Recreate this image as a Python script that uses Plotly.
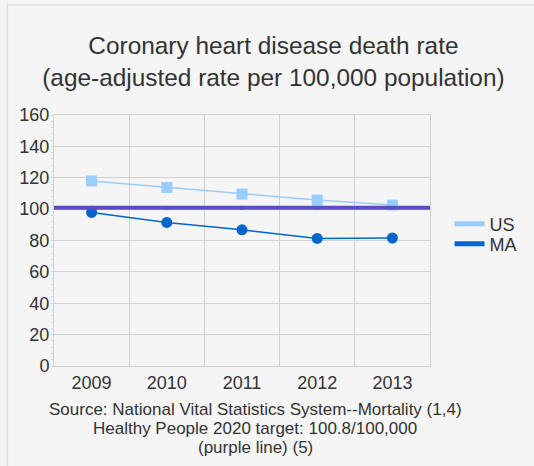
import plotly.graph_objects as go

years = ["2009", "2010", "2011", "2012", "2013"]
us_rate = [118.0, 113.8, 109.6, 105.8, 102.6]
ma_rate = [97.9, 91.5, 86.8, 81.3, 81.6]
target = 100.8
y_ticks = [0, 20, 40, 60, 80, 100, 120, 140, 160]
source_lines = ["Source: National Vital Statistics System--Mortality (1,4)",
                "Healthy People 2020 target: 100.8/100,000",
                "(purple line) (5)"]

xpos = list(range(len(years)))
font = "Liberation Sans, Arial, sans-serif"
txt = "#333333"
bg = "#f5f5f5"
grid = "#d0d0d0"
US_C = "#99ccff"
MA_C = "#0066cc"
PURPLE = "#5a4ec4"

fig = go.Figure()
fig.add_trace(go.Scatter(x=xpos, y=[target]*len(years), mode="markers",
                         marker=dict(symbol="square", size=4, color="#6a5fd0"),
                         showlegend=False, hoverinfo="skip"))
fig.add_trace(go.Scatter(x=xpos, y=us_rate, name="US", mode="lines+markers",
                         line=dict(color=US_C, width=1.5), showlegend=False,
                         marker=dict(symbol="square", size=11, color=US_C)))
fig.add_trace(go.Scatter(x=xpos, y=ma_rate, name="MA", mode="lines+markers",
                         line=dict(color=MA_C, width=1.5), showlegend=False,
                         marker=dict(symbol="circle", size=11, color=MA_C)))
# legend entries (line swatches only)
fig.add_trace(go.Scatter(x=[None], y=[None], name="US", mode="lines",
                         line=dict(color=US_C, width=5), legend="legend"))
fig.add_trace(go.Scatter(x=[None], y=[None], name="MA", mode="lines",
                         line=dict(color=MA_C, width=5), legend="legend2"))

annotations = []
for i, line in enumerate(source_lines):
    annotations.append(dict(text=line, xref="paper", yref="paper",
                            x=0.535, y=-0.172 - i * 0.0757, xanchor="center",
                            yanchor="middle", showarrow=False,
                            font=dict(size=17, color=txt, family=font)))

leg_common = dict(x=1.052, xanchor="left", yanchor="middle",
                  font=dict(size=18, color=txt), bgcolor="rgba(0,0,0,0)",
                  itemwidth=30)

fig.update_layout(
    width=534, height=466,
    paper_bgcolor=bg, plot_bgcolor=bg,
    margin=dict(l=54, r=101, t=115, b=100),
    font=dict(family=font, color=txt, size=18),
    title=dict(text="Coronary heart disease death rate<br>(age-adjusted rate per 100,000 population)",
               x=0.512, xanchor="center", y=0.884, yanchor="top",
               font=dict(size=24.4, color=txt, family=font)),
    legend=dict(y=0.566, **leg_common),
    legend2=dict(y=0.486, **leg_common),
    xaxis=dict(range=[-0.5, 4.5], tickmode="array", tickvals=xpos, ticktext=years,
               showgrid=False, zeroline=False, showline=True, linecolor=grid,
               mirror=True, ticks="", tickfont=dict(size=18, color=txt), automargin=False,
               minor=dict(tick0=-0.5, dtick=1, showgrid=True, gridcolor=grid, gridwidth=1)),
    yaxis=dict(range=[0, 160], tickmode="array", tickvals=y_ticks,
               showgrid=True, gridcolor=grid, zeroline=False, showline=True,
               linecolor=grid, mirror=True, ticks="", tickfont=dict(size=18, color=txt),
               automargin=False,
               minor=dict(ticks="outside", ticklen=2, dtick=4, tickcolor="#d8d8d8")),
    annotations=annotations,
    shapes=[dict(type="rect", xref="paper", yref="paper",
                 x0=(7 - 54) / 379, x1=(560 - 54) / 379,
                 y0=(366 - 490) / 251, y1=(366 - 5) / 251,
                 line=dict(color="#dddddd", width=1.5), fillcolor="rgba(0,0,0,0)",
                 layer="below"),
            dict(type="line", xref="paper", yref="y", x0=0, x1=1,
                 y0=target, y1=target, line=dict(color=PURPLE, width=4),
                 layer="above")],
)

fig.write_html("out.html",
               config={"displayModeBar": False},
               post_script="document.body.style.margin='0';"
                           "document.body.style.background='#f5f5f5';")
